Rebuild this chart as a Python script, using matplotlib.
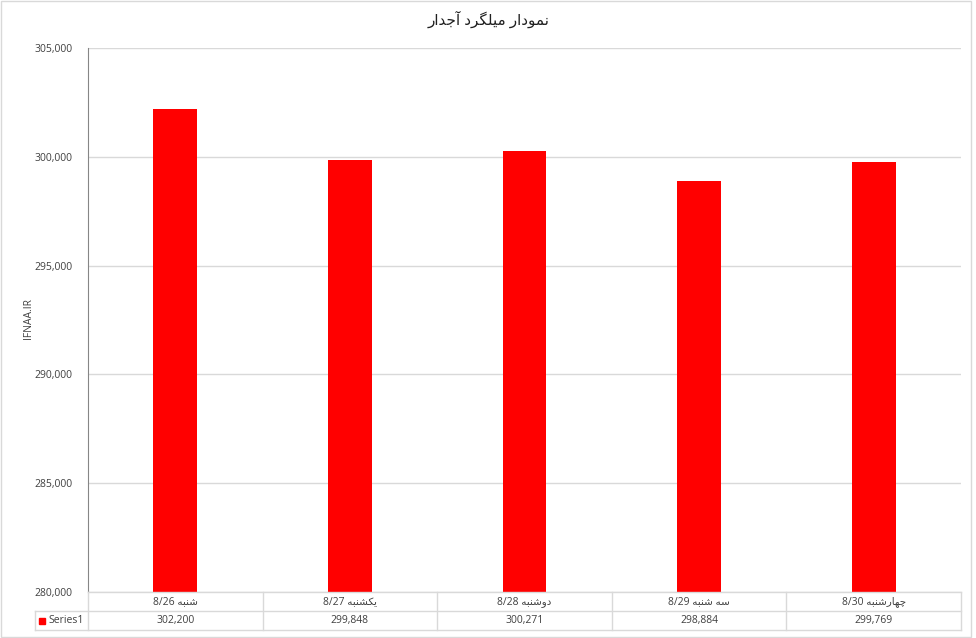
import matplotlib.pyplot as plt
from matplotlib.patches import Rectangle
from matplotlib.lines import Line2D

# data
title = 'نمودار میلگرد آجدار'
categories = ['شنبه 8/26', 'یکشنبه 8/27', 'دوشنبه 8/28', 'سه شنبه 8/29', 'چهارشنبه 8/30']
values = [302200, 299848, 300271, 298884, 299769]
series_name = 'Series1'
ylabel = 'IFNAA.IR'

# simple persian shaping (matplotlib does no shaping / bidi on its own)
# letter: (isolated, final, initial, medial); initial None -> right-joining only
FORMS = {
    'ا': ('\uFE8D', '\uFE8E', None, None),
    'آ': ('\uFE81', '\uFE82', None, None),
    'د': ('\uFEA9', '\uFEAA', None, None),
    'ر': ('\uFEAD', '\uFEAE', None, None),
    'و': ('\uFEED', '\uFEEE', None, None),
    'ب': ('\uFE8F', '\uFE90', '\uFE91', '\uFE92'),
    'ج': ('\uFE9D', '\uFE9E', '\uFE9F', '\uFEA0'),
    'چ': ('\uFB7A', '\uFB7B', '\uFB7C', '\uFB7D'),
    'س': ('\uFEB1', '\uFEB2', '\uFEB3', '\uFEB4'),
    'ش': ('\uFEB5', '\uFEB6', '\uFEB7', '\uFEB8'),
    'ک': ('\uFB8E', '\uFB8F', '\uFB90', '\uFB91'),
    'گ': ('\uFB92', '\uFB93', '\uFB94', '\uFB95'),
    'ل': ('\uFEDD', '\uFEDE', '\uFEDF', '\uFEE0'),
    'م': ('\uFEE1', '\uFEE2', '\uFEE3', '\uFEE4'),
    'ن': ('\uFEE5', '\uFEE6', '\uFEE7', '\uFEE8'),
    'ه': ('\uFEE9', '\uFEEA', '\uFEEB', '\uFEEC'),
    'ی': ('\uFBFC', '\uFBFD', '\uFBFE', '\uFBFF'),
}


def shape_word(w):
    out = []
    for i, c in enumerate(w):
        if c not in FORMS:
            out.append(c)
            continue
        prev = w[i - 1] if i > 0 else None
        nxt = w[i + 1] if i + 1 < len(w) else None
        joins_prev = prev in FORMS and FORMS[prev][2] is not None
        joins_next = FORMS[c][2] is not None and nxt in FORMS
        f = FORMS[c]
        if joins_prev and joins_next:
            out.append(f[3])
        elif joins_prev:
            out.append(f[1])
        elif joins_next:
            out.append(f[2])
        else:
            out.append(f[0])
    return ''.join(out)


def rtl(s):
    toks = []
    for t in s.split(' '):
        if any(ch in FORMS for ch in t):
            toks.append(shape_word(t)[::-1])
        else:
            toks.append(t)
    return ' '.join(toks[::-1])


plt.rcParams['font.family'] = ['Open Sans', 'DejaVu Sans']
txt = '#404040'
grid = '#d9d9d9'
fs = 7.5

W, H = 976, 638
fig = plt.figure(figsize=(W / 100, H / 100), dpi=100)
L, R, T, B = 88, 961, 48, 592
ax = fig.add_axes([L / W, 1 - B / H, (R - L) / W, (B - T) / H])

x = list(range(len(values)))
ax.bar(x, values, width=0.25, color='#ff0000', zorder=3)
ax.set_xlim(-0.5, len(values) - 0.5)
ax.set_ylim(280000, 305000)
ax.set_yticks(range(280000, 305001, 5000))
ax.set_yticklabels([f'{v:,}' for v in range(280000, 305001, 5000)])
ax.tick_params(axis='y', length=0, pad=11, labelsize=fs, labelcolor=txt)
ax.set_xticks([])
ax.grid(axis='y', color=grid, linewidth=1, zorder=0)
for s in ['top', 'right', 'bottom']:
    ax.spines[s].set_visible(False)
ax.spines['left'].set_color('#868686')

fig.text(29 / W, 1 - 318 / H, ylabel, rotation=90, ha='center', va='center',
         fontsize=fs, color=txt)
fig.text(489 / W, 1 - 20 / H, rtl(title), ha='center', va='center',
         fontsize=11, color='#202020')

# data table below the plot
def fx(px):
    return px / W


def fy(py):
    return 1 - py / H


row1, row2, row3 = 592, 611, 630
cw = (R - L) / len(values)
lines = [
    ((L, R), (row1, row1)),
    ((35, R), (row2, row2)),
    ((35, R), (row3, row3)),
    ((35, 35), (row2, row3)),
]
for k in range(len(values) + 1):
    xx = L + k * cw
    lines.append(((xx, xx), (row1, row3)))
for (xs, ys) in lines:
    fig.add_artist(Line2D([fx(xs[0]), fx(xs[1])], [fy(ys[0]), fy(ys[1])],
                          color=grid, linewidth=1))

for k, (c, v) in enumerate(zip(categories, values)):
    cx = L + (k + 0.5) * cw
    fig.text(fx(cx), fy((row1 + row2) / 2), rtl(c), ha='center', va='center',
             fontsize=fs, color=txt)
    fig.text(fx(cx), fy((row2 + row3) / 2), f'{v:,}', ha='center', va='center',
             fontsize=fs, color=txt)

fig.add_artist(Rectangle((fx(39), fy(624)), 6 / W, 6 / H, color='#ff0000'))
fig.text(fx(48), fy((row2 + row3) / 2), series_name, ha='left', va='center',
         fontsize=fs, color=txt)

# outer chart border
fig.add_artist(Rectangle((fx(1), fy(637)), 970 / W, 636 / H, fill=False,
                         edgecolor=grid, linewidth=1))

fig.savefig('out.png', dpi=100)
